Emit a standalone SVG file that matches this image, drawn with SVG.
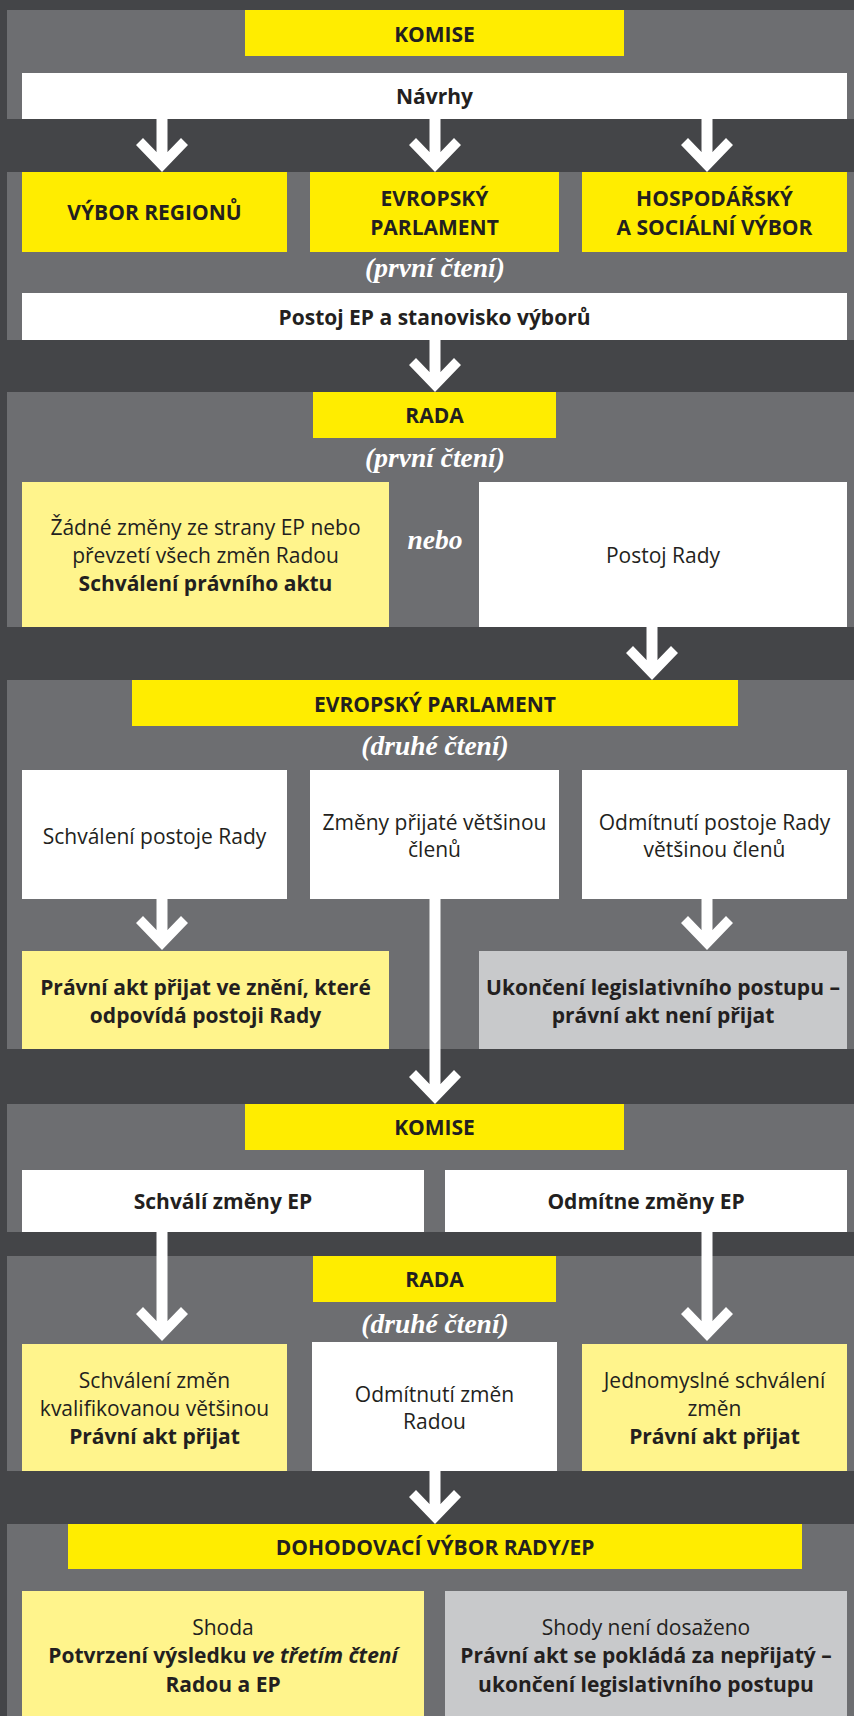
<svg xmlns="http://www.w3.org/2000/svg" width="854" height="1716" viewBox="0 0 854 1716">
<style>
.bg{fill:#444548}
.panel{fill:#6d6e71}
.y{fill:#ffed00}
.py{fill:#fff48c}
.w{fill:#ffffff}
.g{fill:#c8c9cb}
.t{font-family:"Open Sans","Liberation Sans",sans-serif;font-size:21px;fill:#231f20;text-anchor:middle}
.b{font-weight:700}
.it{font-family:"Liberation Serif",serif;font-style:italic;font-weight:700;font-size:27.5px;fill:#ffffff;text-anchor:middle}
.conn{stroke:#ffffff;stroke-width:11;fill:none;marker-end:url(#ah)}
</style>
<defs>
<marker id="ah" markerUnits="userSpaceOnUse" viewBox="-36 -28 38 56" markerWidth="38" markerHeight="56" refX="-10" refY="0" orient="auto" overflow="visible">
<path d="M0,0 L-27,-26 L-34,-19 L-20,-5.5 L-20,5.5 L-34,19 L-27,26 Z" fill="#ffffff"/>
</marker>
</defs>
<rect class="bg" x="0" y="0" width="854" height="1716"/>
<g id="panels">
<rect class="panel" x="7" y="10" width="847" height="109"/>
<rect class="panel" x="7" y="172" width="847" height="168"/>
<rect class="panel" x="7" y="392" width="847" height="235"/>
<rect class="panel" x="7" y="680" width="847" height="369"/>
<rect class="panel" x="7" y="1104" width="847" height="128"/>
<rect class="panel" x="7" y="1256" width="847" height="215"/>
<rect class="panel" x="7" y="1524" width="847" height="192"/>
</g>
<g id="connectors">
<path class="conn" d="M162,119 V162"/>
<path class="conn" d="M435,119 V162"/>
<path class="conn" d="M707,119 V162"/>
<path class="conn" d="M435,340 V382"/>
<path class="conn" d="M652,627 V670"/>
<path class="conn" d="M162,899 V940"/>
<path class="conn" d="M707,899 V940"/>
<path class="conn" d="M435,899 V1094"/>
<path class="conn" d="M162,1232 V1331"/>
<path class="conn" d="M707,1232 V1331"/>
<path class="conn" d="M435,1471 V1514"/>
</g>
<g id="komise1"><rect class="y" x="245" y="10" width="379" height="46"/><text class="t b" x="434.5" y="42">KOMISE</text></g>
<g id="navrhy"><rect class="w" x="22" y="73" width="825" height="46"/><text class="t b" x="434.5" y="104">Návrhy</text></g>
<g id="vybor-regionu"><rect class="y" x="22" y="172" width="265" height="80"/><text class="t b" x="154.5" y="220">VÝBOR REGIONŮ</text></g>
<g id="ep1"><rect class="y" x="310" y="172" width="249" height="80"/><text class="t b" x="434.5" y="206">EVROPSKÝ</text><text class="t b" x="434.5" y="235">PARLAMENT</text></g>
<g id="ehsv"><rect class="y" x="582" y="172" width="265" height="80"/><text class="t b" x="714.5" y="206">HOSPODÁŘSKÝ</text><text class="t b" x="714.5" y="235">A SOCIÁLNÍ VÝBOR</text></g>
<g id="label-prvni1"><text class="it" x="435" y="277">(první čtení)</text></g>
<g id="postoj-ep"><rect class="w" x="22" y="293" width="825" height="47"/><text class="t b" x="434.5" y="325">Postoj EP a stanovisko výborů</text></g>
<g id="rada1"><rect class="y" x="313" y="392" width="243" height="46"/><text class="t b" x="434.5" y="423">RADA</text></g>
<g id="label-prvni2"><text class="it" x="435" y="467">(první čtení)</text></g>
<g id="schvaleni1"><rect class="py" x="22" y="482" width="367" height="145"/><text class="t" x="205.5" y="535">Žádné změny ze strany EP nebo</text><text class="t" x="205.5" y="563">převzetí všech změn Radou</text><text class="t b" x="205.5" y="591">Schválení právního aktu</text></g>
<g id="label-nebo"><text class="it" x="435" y="549">nebo</text></g>
<g id="postoj-rady"><rect class="w" x="479" y="482" width="368" height="145"/><text class="t" x="663" y="563">Postoj Rady</text></g>
<g id="ep2"><rect class="y" x="132" y="680" width="606" height="46"/><text class="t b" x="435" y="712">EVROPSKÝ PARLAMENT</text></g>
<g id="label-druhe1"><text class="it" x="435" y="755">(druhé čtení)</text></g>
<g id="schvaleni-postoje"><rect class="w" x="22" y="770" width="265" height="129"/><text class="t" x="154.5" y="844">Schválení postoje Rady</text></g>
<g id="zmeny"><rect class="w" x="310" y="770" width="249" height="129"/><text class="t" x="434.5" y="830">Změny přijaté většinou</text><text class="t" x="434.5" y="857">členů</text></g>
<g id="odmitnuti-postoje"><rect class="w" x="582" y="770" width="265" height="129"/><text class="t" x="714.5" y="830">Odmítnutí postoje Rady</text><text class="t" x="714.5" y="857">většinou členů</text></g>
<g id="prijat1"><rect class="py" x="22" y="951" width="367" height="98"/><text class="t b" x="205.5" y="995">Právní akt přijat ve znění, které</text><text class="t b" x="205.5" y="1023">odpovídá postoji Rady</text></g>
<g id="ukonceni1"><rect class="g" x="479" y="951" width="368" height="98"/><text class="t b" x="663" y="995">Ukončení legislativního postupu –</text><text class="t b" x="663" y="1023">právní akt není přijat</text></g>
<g id="komise2"><rect class="y" x="245" y="1104" width="379" height="46"/><text class="t b" x="434.5" y="1135">KOMISE</text></g>
<g id="schvali"><rect class="w" x="22" y="1170" width="402" height="62"/><text class="t b" x="223" y="1209">Schválí změny EP</text></g>
<g id="odmitne"><rect class="w" x="445" y="1170" width="402" height="62"/><text class="t b" x="646" y="1209">Odmítne změny EP</text></g>
<g id="rada2"><rect class="y" x="313" y="1256" width="243" height="46"/><text class="t b" x="434.5" y="1287">RADA</text></g>
<g id="label-druhe2"><text class="it" x="435" y="1333">(druhé čtení)</text></g>
<g id="kvalifikovana"><rect class="py" x="22" y="1344" width="265" height="127"/><text class="t" x="154.5" y="1388">Schválení změn</text><text class="t" x="154.5" y="1416">kvalifikovanou většinou</text><text class="t b" x="154.5" y="1444">Právní akt přijat</text></g>
<g id="odmitnuti-zmen"><rect class="w" x="312" y="1342" width="245" height="129"/><text class="t" x="434.5" y="1402">Odmítnutí změn</text><text class="t" x="434.5" y="1429">Radou</text></g>
<g id="jednomyslne"><rect class="py" x="582" y="1344" width="265" height="127"/><text class="t" x="714.5" y="1388">Jednomyslné schválení</text><text class="t" x="714.5" y="1416">změn</text><text class="t b" x="714.5" y="1444">Právní akt přijat</text></g>
<g id="dohodovaci"><rect class="y" x="68" y="1524" width="734" height="45"/><text class="t b" x="435" y="1555">DOHODOVACÍ VÝBOR RADY/EP</text></g>
<g id="shoda"><rect class="py" x="22" y="1591" width="402" height="125"/><text class="t" x="223" y="1635">Shoda</text><text class="t b" x="223" y="1663">Potvrzení výsledku <tspan font-style="italic">ve třetím čtení</tspan></text><text class="t b" x="223" y="1692">Radou a EP</text></g>
<g id="neshoda"><rect class="g" x="445" y="1591" width="402" height="125"/><text class="t" x="646" y="1635">Shody není dosaženo</text><text class="t b" x="646" y="1663">Právní akt se pokládá za nepřijatý –</text><text class="t b" x="646" y="1692">ukončení legislativního postupu</text></g>
</svg>
